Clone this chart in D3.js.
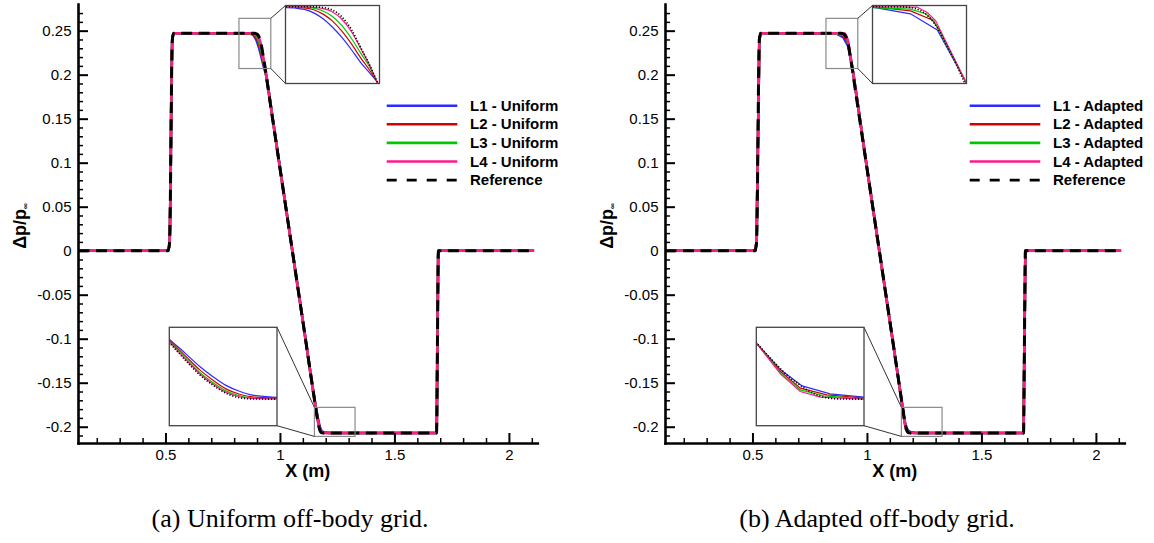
<!DOCTYPE html>
<html lang="en">
<head>
<meta charset="UTF-8">
<title>Pressure signature: uniform vs adapted off-body grid</title>
<script src="https://d3js.org/d3.v7.min.js"></script>
<style>
  body { margin: 0; background: #fff; }
  svg text { font-family: "Liberation Sans", Arial, Helvetica, sans-serif; fill: #000; }
</style>
</head>
<body>
<div id="chart"></div>
<script>
// ---- values (x in m, value = dp/p_inf) ----
const xDomain = [0.118, 2.124];
const yDomain = [-0.2185, 0.2803];
const xTicks = [0.5, 1, 1.5, 2];
const yTicks = [-0.2, -0.15, -0.1, -0.05, 0, 0.05, 0.1, 0.15, 0.2, 0.25];

// shared by every curve: front shock and front plateau
const frontPts = [[0.12, 0], [0.512, 0], [0.518, 0.01], [0.530, 0.24], [0.536, 0.247], [0.80, 0.247]];
// shared by every curve: rear plateau, rear shock, ambient
const rearPts = [[1.23, -0.2071], [1.684, -0.2071], [1.688, -0.10], [1.692, 0], [2.11, 0]];

// the expansion part, which is where the grids differ
const refKnee = [[0.85, 0.2470], [0.867, 0.2470], [0.8895, 0.2470], [0.897, 0.2465], [0.9045, 0.2449],
  [0.912, 0.2405], [0.9195, 0.2326], [0.927, 0.2210], [0.9345, 0.2092], [0.9401, 0.1990], [0.96, 0.1635],
  [1.00, 0.0939], [1.10, -0.0801], [1.156, -0.1783], [1.1614, -0.1876], [1.1658, -0.1946],
  [1.1701, -0.1999], [1.1744, -0.2041], [1.1788, -0.2064], [1.1831, -0.2070], [1.191, -0.2071]];

const uniL1 = [[0.85, 0.2468], [0.867, 0.2465], [0.8745, 0.2462], [0.882, 0.2453], [0.8895, 0.2431],
  [0.897, 0.2393], [0.9045, 0.2339], [0.912, 0.2274], [0.9195, 0.2197], [0.927, 0.2114], [0.9345, 0.2045],
  [0.9401, 0.1990], [0.96, 0.1650], [1.00, 0.0945], [1.10, -0.0795], [1.156, -0.1766], [1.1614, -0.1841],
  [1.1658, -0.1904], [1.1701, -0.1956], [1.1744, -0.2001], [1.1788, -0.2031], [1.1831, -0.2051],
  [1.191, -0.2062], [1.21, -0.2069]];
const uniL2 = [[0.85, 0.2469], [0.867, 0.2467], [0.8745, 0.2466], [0.882, 0.2463], [0.8895, 0.2451],
  [0.897, 0.2423], [0.9045, 0.2378], [0.912, 0.2314], [0.9195, 0.2234], [0.927, 0.2144], [0.9345, 0.2060],
  [0.9401, 0.1990], [0.96, 0.1645], [1.00, 0.0942], [1.10, -0.0798], [1.156, -0.1771], [1.1614, -0.1854],
  [1.1658, -0.1921], [1.1701, -0.1974], [1.1744, -0.2019], [1.1788, -0.2046], [1.1831, -0.2060],
  [1.191, -0.2066], [1.21, -0.2070]];
const uniL3 = [[0.85, 0.2470], [0.867, 0.2469], [0.8745, 0.2468], [0.882, 0.2467], [0.8895, 0.2461],
  [0.897, 0.2443], [0.9045, 0.2408], [0.912, 0.2349], [0.9195, 0.2269], [0.927, 0.2174], [0.9345, 0.2080],
  [0.9401, 0.1990], [0.96, 0.1640], [1.00, 0.0940], [1.10, -0.0800], [1.156, -0.1776], [1.1614, -0.1864],
  [1.1658, -0.1934], [1.1701, -0.1986], [1.1744, -0.2029], [1.1788, -0.2054], [1.1831, -0.2065],
  [1.191, -0.2069], [1.21, -0.2071]];
const uniL4 = [[0.85, 0.2470], [0.867, 0.2470], [0.8745, 0.2470], [0.882, 0.2469], [0.8895, 0.2466],
  [0.897, 0.2458], [0.9045, 0.2437], [0.912, 0.2390], [0.9195, 0.2312], [0.927, 0.2203], [0.9345, 0.2090],
  [0.9401, 0.1990], [0.96, 0.1637], [1.00, 0.0939], [1.10, -0.0801], [1.156, -0.1780], [1.1614, -0.1870],
  [1.1658, -0.1941], [1.1701, -0.1994], [1.1744, -0.2036], [1.1788, -0.2059], [1.1831, -0.2067],
  [1.191, -0.2070], [1.21, -0.2071]];

const adaL1 = [[0.85, 0.2470], [0.867, 0.2468], [0.8973, 0.2425], [0.9187, 0.2322], [0.9415, 0.1990],
  [0.963, 0.1610], [1.00, 0.0939], [1.10, -0.0801], [1.1563, -0.1791], [1.1639, -0.1922],
  [1.1709, -0.2004], [1.18, -0.2044], [1.191, -0.2061], [1.21, -0.2069]];
const adaL2 = [[0.85, 0.2470], [0.867, 0.2470], [0.8973, 0.2444], [0.9147, 0.2386], [0.920, 0.2326],
  [0.9415, 0.1990], [0.963, 0.1610], [1.00, 0.0939], [1.10, -0.0801], [1.1563, -0.1791],
  [1.1639, -0.1931], [1.1703, -0.2015], [1.1789, -0.2049], [1.191, -0.2066], [1.21, -0.2070]];
const adaL3 = [[0.85, 0.2470], [0.8973, 0.2455], [0.9093, 0.2425], [0.916, 0.2382], [0.9415, 0.1990],
  [0.963, 0.1610], [1.00, 0.0939], [1.10, -0.0801], [1.1563, -0.1791], [1.1639, -0.1939],
  [1.1703, -0.2024], [1.1779, -0.2054], [1.191, -0.2069], [1.21, -0.2071]];
const adaL4 = [[0.85, 0.2470], [0.9026, 0.2468], [0.9107, 0.2433], [0.9173, 0.2382], [0.9415, 0.1990],
  [0.963, 0.1610], [1.00, 0.0939], [1.10, -0.0801], [1.1563, -0.1791], [1.1639, -0.1944],
  [1.1703, -0.2032], [1.1768, -0.2061], [1.191, -0.2071], [1.21, -0.2071]];

const uniNames = ["L1 - Uniform", "L2 - Uniform", "L3 - Uniform", "L4 - Uniform"];
const adaNames = ["L1 - Adapted", "L2 - Adapted", "L3 - Adapted", "L4 - Adapted"];
const captions = ["(a) Uniform off-body grid.", "(b) Adapted off-body grid."];

// zoom windows (data ranges) for the two insets
const topZoomX = [0.867, 0.942], topZoomY = [0.198, 0.2478];
const botZoomX = [1.156, 1.191], botZoomY = [-0.2206, -0.1706];
// the grey boxes marking the zoomed spots on the main plot
const topMarkX = [0.821, 0.960], topMarkY = [0.207, 0.264];
const botMarkX = [1.1505, 1.328], botMarkY = [-0.211, -0.178];

const colors = ["#2b2bff", "#d40000", "#00c800", "#ff1a8c"];

// ---- drawing ----
const W = 1154, H = 543;
const plot = {left: 78, right: 537.3, top: 4, bottom: 443};
const panelShift = 587;

const svg = d3.select("#chart").append("svg").attr("width", W).attr("height", H);
svg.append("rect").attr("width", W).attr("height", H).attr("fill", "#fff");

const panels = [
  {names: uniNames, knees: [uniL1, uniL2, uniL3, uniL4], curve: d3.curveMonotoneX, legendX: 470},
  {names: adaNames, knees: [adaL1, adaL2, adaL3, adaL4], curve: d3.curveLinear, legendX: 466}
];

const fmt = d => String(+d.toFixed(2));

panels.forEach(function(p, i) {
  const g = svg.append("g").attr("transform", `translate(${i * panelShift},0)`);
  const x = d3.scaleLinear().domain(xDomain).range([plot.left, plot.right]);
  const y = d3.scaleLinear().domain(yDomain).range([plot.bottom, plot.top]);

  const series = p.knees.map(k => frontPts.concat(k, rearPts));
  const refSeries = frontPts.concat(refKnee, rearPts);

  // main curves
  const line = d3.line().x(d => x(d[0])).y(d => y(d[1])).curve(p.curve);
  const refLine = d3.line().x(d => x(d[0])).y(d => y(d[1])).curve(d3.curveMonotoneX);
  series.forEach(function(s, k) {
    g.append("path").attr("d", line(s)).attr("fill", "none")
      .attr("stroke", colors[k]).attr("stroke-width", 2.6).attr("stroke-linejoin", "round");
  });
  g.append("path").attr("d", refLine(refSeries)).attr("fill", "none")
    .attr("stroke", "#000").attr("stroke-width", 3).attr("stroke-dasharray", "11,6.5");

  // axes, ticks pointing inward
  const yMinor = d3.range(-21, 28).map(v => v / 100).filter(v => Math.abs(v * 20 - Math.round(v * 20)) > 1e-6);
  const xMinor = d3.range(2, 22).map(v => v / 10).filter(v => Math.abs(v * 2 - Math.round(v * 2)) > 1e-6);

  g.append("g").attr("transform", `translate(${plot.left},0)`)
    .call(d3.axisLeft(y).tickValues(yMinor).tickSize(-5).tickFormat(""))
    .call(s => { s.select(".domain").remove(); s.selectAll("line").attr("stroke-width", 1.5); });
  g.append("g").attr("transform", `translate(0,${plot.bottom})`)
    .call(d3.axisBottom(x).tickValues(xMinor).tickSize(-5).tickFormat(""))
    .call(s => { s.select(".domain").remove(); s.selectAll("line").attr("stroke-width", 1.5); });

  const ya = g.append("g").attr("transform", `translate(${plot.left},0)`)
    .call(d3.axisLeft(y).tickValues(yTicks).tickSize(-10).tickSizeOuter(0).tickPadding(6.5).tickFormat(fmt));
  const xa = g.append("g").attr("transform", `translate(0,${plot.bottom})`)
    .call(d3.axisBottom(x).tickValues(xTicks).tickSize(-10).tickSizeOuter(0).tickPadding(6.5).tickFormat(fmt));
  [ya, xa].forEach(function(a) {
    a.attr("font-family", null).attr("font-size", null);
    a.select(".domain").attr("stroke-width", 2.6).attr("stroke-linecap", "square");
    a.selectAll(".tick line").attr("stroke-width", 2);
    a.selectAll(".tick text").style("font-size", "15px");
  });

  // axis titles
  g.append("text").attr("x", (plot.left + plot.right) / 2).attr("y", 477)
    .attr("text-anchor", "middle").style("font-size", "18px").style("font-weight", "bold").text("X (m)");
  const yl = g.append("text").attr("transform", "translate(26,226) rotate(-90)")
    .attr("text-anchor", "middle").style("font-size", "18px").style("font-weight", "bold");
  yl.append("tspan").text("\u0394p/p");
  yl.append("tspan").attr("dy", 2).style("font-size", "8px").text("\u221e");

  // legend
  const labels = p.names.concat(["Reference"]);
  labels.forEach(function(name, k) {
    const ly = 105.7 + k * 18.6;
    const ln = g.append("line").attr("x1", p.legendX - 83.3).attr("x2", p.legendX - 12.7)
      .attr("y1", ly).attr("y2", ly).attr("stroke-width", 2.6);
    if (k < 4) ln.attr("stroke", colors[k]);
    else ln.attr("stroke", "#000").attr("stroke-dasharray", "10,10");
    g.append("text").attr("x", p.legendX).attr("y", ly + 5)
      .style("font-size", "15px").style("font-weight", "bold").text(name);
  });

  // insets
  const insets = [
    {box: {x: 285.5, y: 5.5, w: 94, h: 78}, zx: topZoomX, zy: topZoomY, mx: topMarkX, my: topMarkY, side: "right"},
    {box: {x: 169.3, y: 327.3, w: 107.7, h: 98.4}, zx: botZoomX, zy: botZoomY, mx: botMarkX, my: botMarkY, side: "left"}
  ];
  insets.forEach(function(ins, j) {
    const b = ins.box;
    const mx0 = x(ins.mx[0]), mx1 = x(ins.mx[1]), my0 = y(ins.my[1]), my1 = y(ins.my[0]);
    g.append("rect").attr("x", mx0).attr("y", my0).attr("width", mx1 - mx0).attr("height", my1 - my0)
      .attr("fill", "none").attr("stroke", "#8a8a8a").attr("stroke-width", 1.2);
    // connectors
    const conn = ins.side === "right"
      ? [[mx1, my0, b.x, b.y], [mx1, my1, b.x, b.y + b.h]]
      : [[b.x + b.w, b.y, mx0, my0], [b.x + b.w, b.y + b.h, mx0, my1]];
    conn.forEach(c => g.append("line").attr("x1", c[0]).attr("y1", c[1]).attr("x2", c[2]).attr("y2", c[3])
      .attr("stroke", "#333").attr("stroke-width", 1));

    const clipId = `clip-${i}-${j}`;
    g.append("clipPath").attr("id", clipId).append("rect")
      .attr("x", b.x).attr("y", b.y).attr("width", b.w).attr("height", b.h);
    g.append("rect").attr("x", b.x).attr("y", b.y).attr("width", b.w).attr("height", b.h).attr("fill", "#fff");
    const xi = d3.scaleLinear().domain(ins.zx).range([b.x, b.x + b.w]);
    const yi = d3.scaleLinear().domain(ins.zy).range([b.y + b.h, b.y]);
    const ig = g.append("g").attr("clip-path", `url(#${clipId})`);
    const iline = d3.line().x(d => xi(d[0])).y(d => yi(d[1])).curve(p.curve);
    const irefLine = d3.line().x(d => xi(d[0])).y(d => yi(d[1])).curve(d3.curveMonotoneX);
    series.forEach(function(s, k) {
      ig.append("path").attr("d", iline(s)).attr("fill", "none")
        .attr("stroke", colors[k]).attr("stroke-width", 1.2);
    });
    ig.append("path").attr("d", irefLine(refSeries)).attr("fill", "none")
      .attr("stroke", "#000").attr("stroke-width", 1.6).attr("stroke-dasharray", "1.2,1.8");
    g.append("rect").attr("x", b.x).attr("y", b.y).attr("width", b.w).attr("height", b.h)
      .attr("fill", "none").attr("stroke", "#444").attr("stroke-width", 1.3);
  });

  // caption
  g.append("text").attr("x", 290).attr("y", 527).attr("text-anchor", "middle")
    .style("font-family", "'Liberation Serif', 'Times New Roman', serif").style("font-size", "26px")
    .text(captions[i]);
});
</script>
</body>
</html>
